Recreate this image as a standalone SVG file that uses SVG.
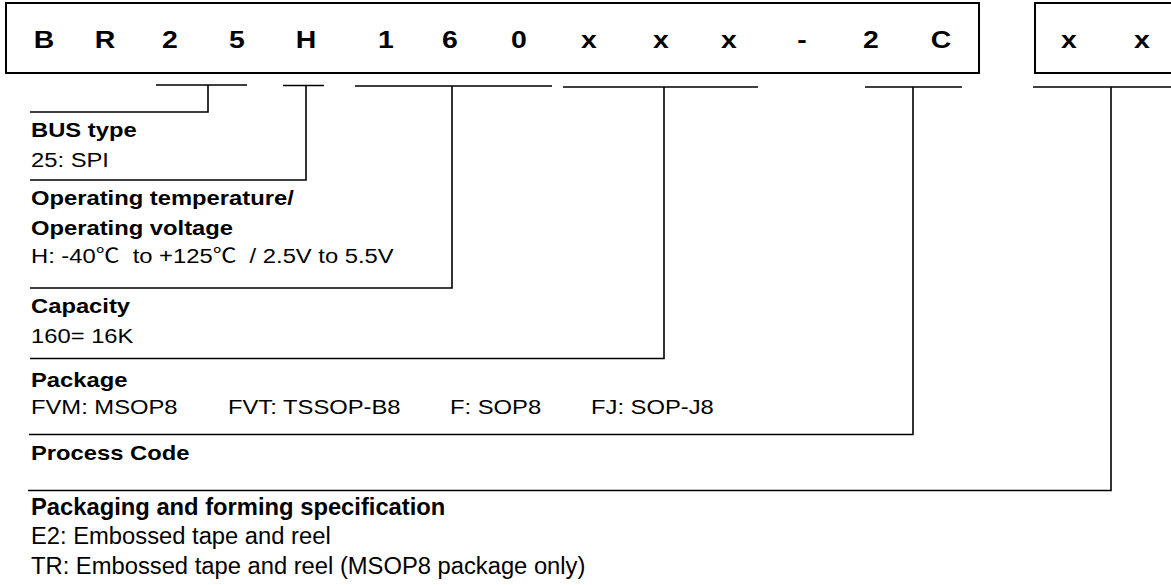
<svg xmlns="http://www.w3.org/2000/svg" width="1171" height="585" viewBox="0 0 1171 585">
<style>
text{font-family:"Liberation Sans",Arial,"Noto Sans CJK JP",sans-serif;fill:#000}
.hd{font-size:24.5px;font-weight:bold;text-anchor:middle}
.lb{font-size:20.5px;font-weight:bold}
.tx{font-size:20.5px}
.lb2{font-size:23.3px;font-weight:bold}
.tx2{font-size:23.3px}
.box{fill:#fff;stroke:#000;stroke-width:2}
.ln{fill:none;stroke:#000;stroke-width:1.6}
</style>
<rect width="1171" height="585" fill="#fff"/>
<g id="part-number">
<rect class="box" x="6" y="3" width="973" height="70"/>
<text class="hd" transform="translate(44,48) scale(1.16,1)">B</text>
<text class="hd" transform="translate(105,48) scale(1.16,1)">R</text>
<text class="hd" transform="translate(170,48) scale(1.16,1)">2</text>
<text class="hd" transform="translate(237,48) scale(1.16,1)">5</text>
<text class="hd" transform="translate(306,48) scale(1.16,1)">H</text>
<text class="hd" transform="translate(386,48) scale(1.16,1)">1</text>
<text class="hd" transform="translate(450,48) scale(1.16,1)">6</text>
<text class="hd" transform="translate(519,48) scale(1.16,1)">0</text>
<text class="hd" transform="translate(589,48) scale(1.16,1)">x</text>
<text class="hd" transform="translate(661,48) scale(1.16,1)">x</text>
<text class="hd" transform="translate(729,48) scale(1.16,1)">x</text>
<text class="hd" transform="translate(802,48) scale(1.16,1)">-</text>
<text class="hd" transform="translate(871,48) scale(1.16,1)">2</text>
<text class="hd" transform="translate(941,48) scale(1.16,1)">C</text>
</g>
<g id="option-box">
<rect class="box" x="1035" y="3" width="200" height="70"/>
<text class="hd" transform="translate(1069,48) scale(1.16,1)">x</text>
<text class="hd" transform="translate(1142,48) scale(1.16,1)">x</text>
</g>
<g id="connectors">
<path class="ln" d="M156,85H247M208,85V112H30"/>
<path class="ln" d="M283,85.5H324M306,85.5V180H30"/>
<path class="ln" d="M355,86H552M452,86V288H30"/>
<path class="ln" d="M563,87H758M664,87V358.5H30"/>
<path class="ln" d="M865,87H962M913,87V434.5H29"/>
<path class="ln" d="M1033,87H1171M1111,87V490.5H28"/>
</g>
<g id="bus-type">
<text class="lb" transform="translate(31,137) scale(1.16,1)">BUS type</text>
<text class="tx" transform="translate(31,167) scale(1.16,1)">25: SPI</text>
</g>
<g id="operating-conditions">
<text class="lb" transform="translate(31,205) scale(1.16,1)">Operating temperature/</text>
<text class="lb" transform="translate(31,234.5) scale(1.16,1)">Operating voltage</text>
<text class="tx" transform="translate(31,263) scale(1.16,1)" xml:space="preserve">H: -40℃  to +125℃  / 2.5V to 5.5V</text>
</g>
<g id="capacity">
<text class="lb" transform="translate(31,313) scale(1.16,1)">Capacity</text>
<text class="tx" transform="translate(31,343) scale(1.16,1)">160= 16K</text>
</g>
<g id="package">
<text class="lb" transform="translate(31,386.5) scale(1.16,1)">Package</text>
<text class="tx" transform="translate(31,413.5) scale(1.16,1)">FVM: MSOP8</text>
<text class="tx" transform="translate(228,413.5) scale(1.16,1)">FVT: TSSOP-B8</text>
<text class="tx" transform="translate(450,413.5) scale(1.16,1)">F: SOP8</text>
<text class="tx" transform="translate(591,413.5) scale(1.16,1)">FJ: SOP-J8</text>
</g>
<g id="process-code">
<text class="lb" transform="translate(31,460) scale(1.16,1)">Process Code</text>
</g>
<g id="packaging">
<text class="lb2" transform="translate(31,515) scale(1.02,1)">Packaging and forming specification</text>
<text class="tx2" transform="translate(31,544) scale(1.02,1)">E2: Embossed tape and reel</text>
<text class="tx2" transform="translate(31,573.5) scale(1.02,1)">TR: Embossed tape and reel (MSOP8 package only)</text>
</g>
</svg>
